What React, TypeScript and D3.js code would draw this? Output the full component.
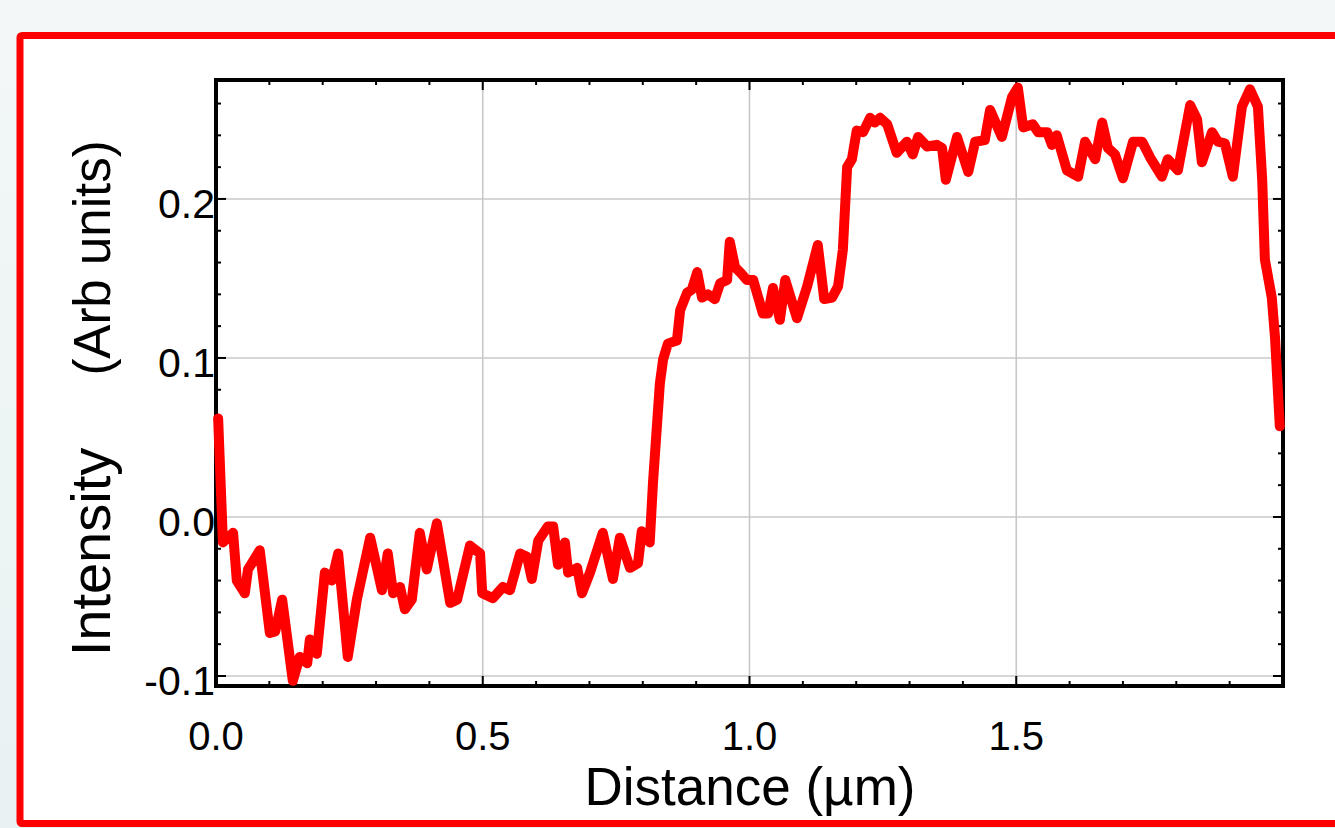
import React from "react";
import * as d3 from "d3";

const distance = [
  0.004, 0.013, 0.032, 0.039, 0.054, 0.060, 0.082, 0.101, 0.111, 0.124,
  0.144, 0.157, 0.171, 0.176, 0.189, 0.204, 0.217, 0.229, 0.247, 0.264,
  0.289, 0.311, 0.322, 0.332, 0.345, 0.354, 0.367, 0.382, 0.395, 0.414,
  0.439, 0.452, 0.476, 0.495, 0.499, 0.519, 0.538, 0.551, 0.570, 0.583,
  0.592, 0.604, 0.622, 0.632, 0.641, 0.654, 0.660, 0.677, 0.686, 0.701,
  0.725, 0.744, 0.757, 0.776, 0.791, 0.798, 0.813, 0.819, 0.832, 0.838,
  0.847, 0.864, 0.870, 0.883, 0.892, 0.902, 0.911, 0.922, 0.935, 0.945,
  0.958, 0.963, 0.973, 0.982, 0.995, 1.007, 1.025, 1.035, 1.044, 1.057,
  1.067, 1.089, 1.108, 1.128, 1.140, 1.155, 1.166, 1.175, 1.183, 1.192,
  1.201, 1.213, 1.226, 1.235, 1.245, 1.258, 1.276, 1.295, 1.306, 1.316,
  1.333, 1.351, 1.361, 1.368, 1.389, 1.410, 1.423, 1.441, 1.451, 1.473,
  1.492, 1.503, 1.513, 1.531, 1.541, 1.558, 1.567, 1.576, 1.595, 1.616,
  1.629, 1.648, 1.661, 1.672, 1.685, 1.700, 1.719, 1.736, 1.751, 1.773,
  1.784, 1.803, 1.826, 1.839, 1.848, 1.867, 1.878, 1.891, 1.906, 1.923,
  1.938, 1.953, 1.961, 1.966, 1.979, 1.985, 1.994,
];

const intensity = [
  0.062, -0.016, -0.010, -0.040, -0.048, -0.033, -0.021, -0.073, -0.072, -0.052,
  -0.103, -0.088, -0.092, -0.077, -0.086, -0.035, -0.040, -0.023, -0.088, -0.052,
  -0.013, -0.046, -0.023, -0.048, -0.044, -0.058, -0.052, -0.010, -0.033, -0.004,
  -0.054, -0.052, -0.018, -0.023, -0.048, -0.051, -0.044, -0.046, -0.023, -0.025,
  -0.039, -0.015, -0.006, -0.006, -0.030, -0.016, -0.035, -0.032, -0.048, -0.035,
  -0.010, -0.039, -0.013, -0.032, -0.029, -0.009, -0.016, 0.021, 0.084, 0.099,
  0.109, 0.111, 0.130, 0.141, 0.143, 0.154, 0.138, 0.140, 0.137, 0.147,
  0.149, 0.173, 0.157, 0.154, 0.149, 0.149, 0.128, 0.128, 0.144, 0.124,
  0.149, 0.125, 0.145, 0.171, 0.137, 0.138, 0.145, 0.168, 0.220, 0.225,
  0.243, 0.242, 0.251, 0.248, 0.251, 0.247, 0.229, 0.236, 0.228, 0.239,
  0.233, 0.234, 0.232, 0.212, 0.239, 0.217, 0.236, 0.237, 0.256, 0.239,
  0.264, 0.270, 0.245, 0.247, 0.242, 0.242, 0.234, 0.240, 0.218, 0.214,
  0.236, 0.225, 0.248, 0.232, 0.228, 0.213, 0.236, 0.236, 0.226, 0.214,
  0.225, 0.218, 0.259, 0.250, 0.223, 0.242, 0.236, 0.235, 0.214, 0.258,
  0.269, 0.258, 0.212, 0.162, 0.138, 0.113, 0.057,
];

const xMajorTicks = [0, 0.5, 1.0, 1.5];
const xTickLabels = ["0.0", "0.5", "1.0", "1.5"];
const yMajorTicks = [-0.1, 0.0, 0.1, 0.2];
const yTickLabels = ["-0.1", "0.0", "0.1", "0.2"];
const xMinorStep = 0.1;
const yMinorStep = 0.02;

const W = 1335;
const H = 828;
const left = 216, right = 1283, top = 80, bottom = 686;
const FONT = "'Liberation Sans', Arial, Helvetica, sans-serif";

export default function App() {
  const x = d3.scaleLinear().domain([0, 2]).range([left, right]);
  const y = d3.scaleLinear().domain([-0.1063, 0.2748]).range([bottom, top]);

  const pts: [number, number][] = distance.map((d, i) => [d, intensity[i]]);
  const line = d3
    .line<[number, number]>()
    .x((d) => x(d[0]))
    .y((d) => y(d[1]));

  const xMinor = d3.range(xMinorStep, 2 - 1e-9, xMinorStep).filter(
    (v) => !xMajorTicks.some((m) => Math.abs(m - v) < 1e-6)
  );
  const yMinor = d3.range(-0.1, 0.27, yMinorStep).filter(
    (v) => !yMajorTicks.some((m) => Math.abs(m - v) < 1e-6)
  );

  const minorLen = 5;
  const majorLen = 10;

  return (
    <svg
      width={W}
      height={H}
      style={{ position: "absolute", left: 0, top: 0, display: "block" }}
    >
      <defs>
        <linearGradient id="bg" x1="0" y1="0" x2="0" y2="1">
          <stop offset="0" stopColor="#f3f7f8" />
          <stop offset="1" stopColor="#e8f2f2" />
        </linearGradient>
      </defs>
      <rect x={0} y={0} width={W} height={H} fill="url(#bg)" />
      <rect x={20} y={35.5} width={1340} height={788} fill="#ffffff" stroke="#ff0000" strokeWidth={7} rx={2} />

      {/* grid */}
      {xMajorTicks.filter((v) => v > 0).map((v) => (
        <line key={"gx" + v} x1={x(v)} x2={x(v)} y1={top} y2={bottom} stroke="#c8c8c8" strokeWidth={1.6} />
      ))}
      {yMajorTicks.map((v) => (
        <line key={"gy" + v} x1={left} x2={right} y1={y(v)} y2={y(v)} stroke="#c8c8c8" strokeWidth={1.6} />
      ))}

      {/* ticks */}
      {xMinor.map((v) => (
        <g key={"xm" + v}>
          <line x1={x(v)} x2={x(v)} y1={bottom} y2={bottom - minorLen} stroke="#000" strokeWidth={2} />
          <line x1={x(v)} x2={x(v)} y1={top} y2={top + minorLen} stroke="#000" strokeWidth={2} />
        </g>
      ))}
      {xMajorTicks.map((v) => (
        <g key={"xM" + v}>
          <line x1={x(v)} x2={x(v)} y1={bottom} y2={bottom - majorLen} stroke="#000" strokeWidth={2} />
          <line x1={x(v)} x2={x(v)} y1={top} y2={top + majorLen} stroke="#000" strokeWidth={2} />
        </g>
      ))}
      {yMinor.map((v) => (
        <g key={"ym" + v}>
          <line x1={left} x2={left + minorLen} y1={y(v)} y2={y(v)} stroke="#000" strokeWidth={2} />
          <line x1={right} x2={right - minorLen} y1={y(v)} y2={y(v)} stroke="#000" strokeWidth={2} />
        </g>
      ))}
      {yMajorTicks.map((v) => (
        <g key={"yM" + v}>
          <line x1={left} x2={left + majorLen} y1={y(v)} y2={y(v)} stroke="#000" strokeWidth={2} />
          <line x1={right} x2={right - majorLen} y1={y(v)} y2={y(v)} stroke="#000" strokeWidth={2} />
        </g>
      ))}

      {/* frame */}
      <rect x={left} y={top} width={right - left} height={bottom - top} fill="none" stroke="#000" strokeWidth={4} />

      {/* data line */}
      <path
        d={line(pts) || ""}
        fill="none"
        stroke="#ff0000"
        strokeWidth={10}
        strokeLinejoin="round"
        strokeLinecap="round"
      />

      {/* tick labels */}
      {xMajorTicks.map((v, i) => (
        <text key={"xl" + v} x={x(v)} y={750} textAnchor="middle" fontFamily={FONT} fontSize={40} fill="#000">
          {xTickLabels[i]}
        </text>
      ))}
      {yMajorTicks.map((v, i) => (
        <text key={"yl" + v} x={215} y={y(v) + 19} textAnchor="end" fontFamily={FONT} fontSize={41} fill="#000">
          {yTickLabels[i]}
        </text>
      ))}

      {/* axis titles */}
      <text x={750} y={805} textAnchor="middle" fontFamily={FONT} fontSize={53} fill="#000">
        Distance (µm)
      </text>
      <text
        transform={`translate(110, 552) rotate(-90)`}
        textAnchor="middle"
        fontFamily={FONT}
        fontSize={56}
        fill="#000"
      >
        Intensity
      </text>
      <text
        transform={`translate(110, 258) rotate(-90)`}
        textAnchor="middle"
        fontFamily={FONT}
        fontSize={51}
        fill="#000"
      >
        (Arb units)
      </text>
    </svg>
  );
}
